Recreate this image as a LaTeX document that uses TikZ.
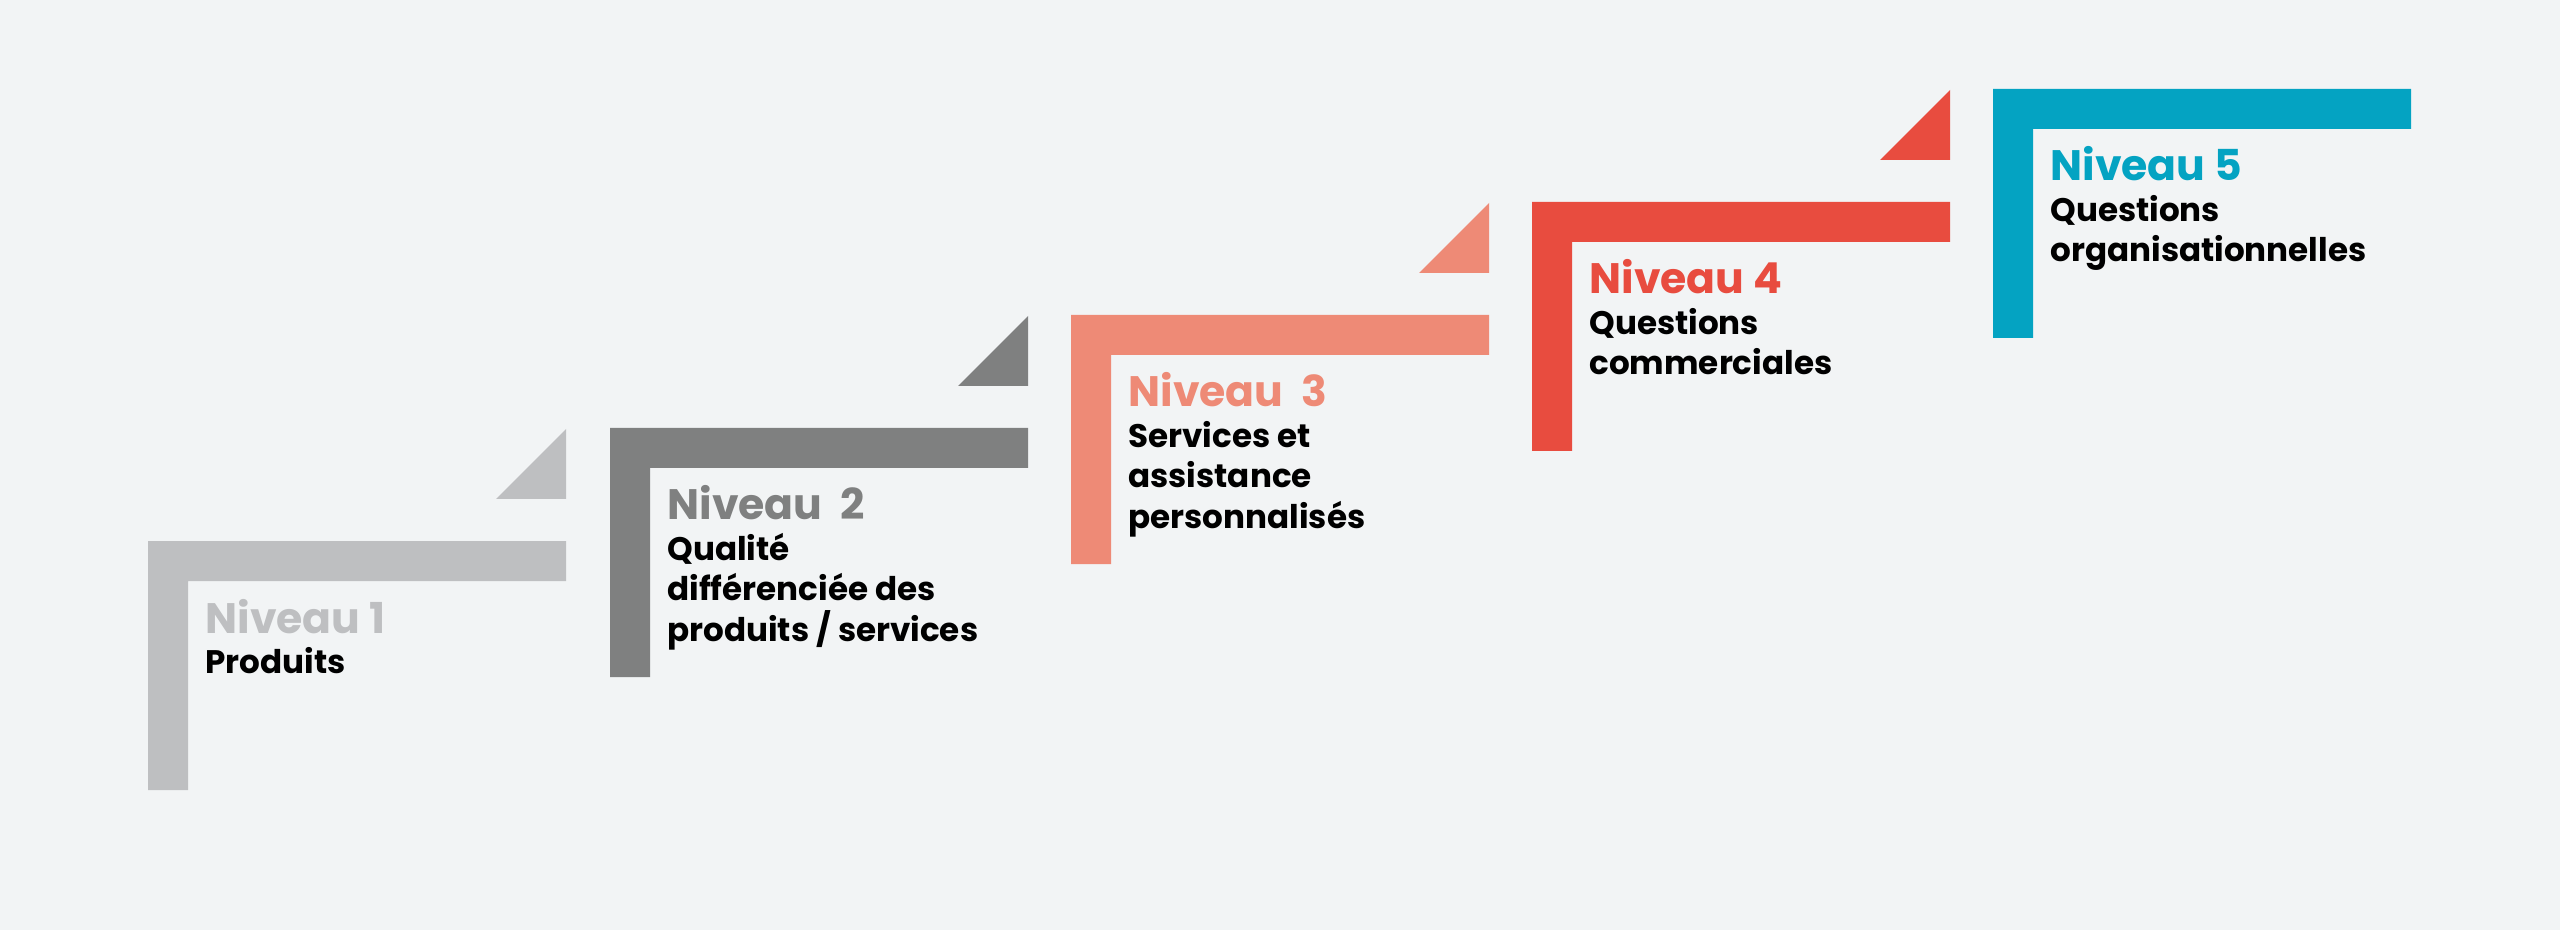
\documentclass[tikz,border=0pt]{standalone}
\usepackage{fontspec}
\setmainfont{Poppins}
\usepackage{xcolor}

\definecolor{fond}{HTML}{F2F4F5}
\definecolor{niva}{HTML}{BEBFC1}
\definecolor{nivb}{HTML}{7F8080}
\definecolor{nivc}{HTML}{EE8A76}
\definecolor{nivd}{HTML}{E84C3F}
\definecolor{nive}{HTML}{04A3C2}

\begin{document}
\begin{tikzpicture}[x=0.5pt, y=-0.5pt,
	titre/.style={anchor=base west, inner sep=0pt, font=\fontsize{21.3}{26}\selectfont\bfseries},
	desc/.style={anchor=north west, inner sep=0pt, align=left, font=\fontsize{16.3}{20.25}\selectfont\bfseries}]
				\fill[fond] (0,0) rectangle (2560,930);
				\useasboundingbox (0,0) rectangle (2560,930);
				
				% Niveau 1
				\fill[niva] (148,541) -- (566,541) -- (566,581) -- (188,581) -- (188,790) -- (148,790) -- cycle;
				\fill[niva] (566,429) -- (566,499) -- (496,499) -- cycle;
				\node[titre, text=niva] (niv1) at (205,633) {Niveau 1};
				\node[desc] (desc1) at (205,644.65) {\strut Produits};
				
				% Niveau 2
				\fill[nivb] (610,428) -- (1028,428) -- (1028,468) -- (650,468) -- (650,677) -- (610,677) -- cycle;
				\fill[nivb] (1028,316) -- (1028,386) -- (958,386) -- cycle;
				\node[titre, text=nivb] (niv2) at (667,520) {Niveau\ \ 2};
				\node[desc] (desc2) at (667,531.65) {\strut Qualité\\différenciée des\\produits / services};
				
				% Niveau 3
				\fill[nivc] (1071,315) -- (1489,315) -- (1489,355) -- (1111,355) -- (1111,564) -- (1071,564) -- cycle;
				\fill[nivc] (1489,203) -- (1489,273) -- (1419,273) -- cycle;
				\node[titre, text=nivc] (niv3) at (1128,407) {Niveau\ \ 3};
				\node[desc] (desc3) at (1128,418.65) {\strut Services et\\assistance\\personnalisés};
				
				% Niveau 4
				\fill[nivd] (1532,202) -- (1950,202) -- (1950,242) -- (1572,242) -- (1572,451) -- (1532,451) -- cycle;
				\fill[nivd] (1950,90) -- (1950,160) -- (1880,160) -- cycle;
				\node[titre, text=nivd] (niv4) at (1589,294) {Niveau 4};
				\node[desc] (desc4) at (1589,305.65) {\strut Questions\\commerciales};
				
				% Niveau 5
				\fill[nive] (1993,89) -- (2411,89) -- (2411,129) -- (2033,129) -- (2033,338) -- (1993,338) -- cycle;
				\node[titre, text=nive] (niv5) at (2050,181) {Niveau 5};
				\node[desc] (desc5) at (2050,192.65) {\strut Questions\\organisationnelles};
			\end{tikzpicture}
\end{document}
